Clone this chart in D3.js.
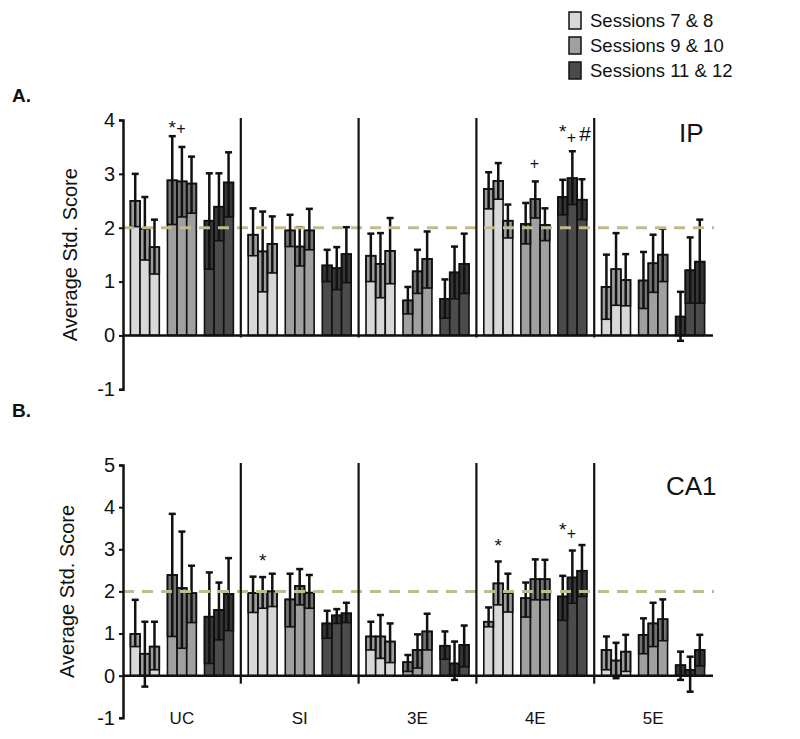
<!DOCTYPE html>
<html>
<meta charset=utf-8>
<head>
<style>
  body { margin: 0; background: #fff; }
  svg text { font-family: "Liberation Sans", Arial, sans-serif; fill: #111; }
</style>
</head>
<body>
<svg id="chart" width="800" height="739"></svg>
<script src="https://d3js.org/d3.v7.min.js"></script>
<script>
// categories
var groups = ["UC", "SI", "3E", "4E", "5E"]
var sessions = ["Sessions 7 & 8", "Sessions 9 & 10", "Sessions 11 & 12"]
var sessionFill = ["#d8d8d8", "#a0a0a0", "#4b4b4b"]

// panel A (IP): [group][session][bar]
var ipMean = [
  [[2.50, 1.98, 1.64], [2.88, 2.86, 2.82], [2.13, 2.39, 2.84]],
  [[1.87, 1.56, 1.70], [1.95, 1.65, 1.95], [1.30, 1.25, 1.51]],
  [[1.48, 1.33, 1.57], [0.65, 1.19, 1.42], [0.68, 1.17, 1.33]],
  [[2.72, 2.87, 2.13], [2.07, 2.53, 2.05], [2.57, 2.92, 2.52]],
  [[0.90, 1.23, 1.03], [1.02, 1.34, 1.50], [0.35, 1.21, 1.37]]
]
var ipHi = [
  [[3.00, 2.57, 2.15], [3.70, 3.50, 3.32], [3.01, 3.01, 3.40]],
  [[2.36, 2.30, 2.21], [2.24, 2.01, 2.35], [1.59, 1.64, 2.01]],
  [[1.89, 1.90, 2.18], [0.90, 1.59, 1.93], [1.04, 1.65, 1.89]],
  [[3.03, 3.20, 2.43], [2.46, 2.86, 2.36], [2.89, 3.42, 2.90]],
  [[1.50, 1.90, 1.51], [1.55, 1.87, 1.98], [0.81, 1.82, 2.15]]
]
var ipLo = [
  [[2.02, 1.40, 1.14], [2.06, 2.20, 2.27], [1.23, 1.76, 2.20]],
  [[1.48, 0.81, 1.16], [1.65, 1.29, 1.59], [1.00, 0.85, 0.98]],
  [[1.00, 0.70, 0.96], [0.40, 0.78, 0.88], [0.32, 0.68, 0.78]],
  [[2.35, 2.53, 1.81], [1.70, 2.18, 1.76], [2.24, 2.43, 2.15]],
  [[0.30, 0.56, 0.55], [0.50, 0.80, 1.00], [-0.10, 0.60, 0.60]]
]

// panel B (CA1)
var caMean = [
  [[0.99, 0.52, 0.69], [2.39, 2.08, 1.96], [1.40, 1.56, 1.94]],
  [[1.96, 2.00, 2.00], [1.81, 2.13, 1.97], [1.24, 1.43, 1.48]],
  [[0.93, 0.93, 0.81], [0.32, 0.61, 1.05], [0.71, 0.29, 0.73]],
  [[1.28, 2.19, 1.96], [1.84, 2.29, 2.29], [1.88, 2.33, 2.49]],
  [[0.61, 0.36, 0.57], [0.97, 1.24, 1.34], [0.25, 0.14, 0.61]]
]
var caHi = [
  [[1.80, 1.28, 1.28], [3.84, 3.42, 2.61], [2.45, 2.21, 2.79]],
  [[2.35, 2.34, 2.42], [2.42, 2.53, 2.39], [1.54, 1.58, 1.73]],
  [[1.28, 1.44, 1.24], [0.49, 0.98, 1.47], [1.05, 0.81, 1.19]],
  [[1.62, 2.71, 2.42], [2.21, 2.76, 2.75], [2.37, 2.97, 3.10]],
  [[0.93, 0.78, 0.97], [1.36, 1.73, 1.81], [0.57, 0.45, 0.97]]
]
var caLo = [
  [[0.69, -0.26, 0.14], [0.93, 0.65, 1.26], [0.29, 0.85, 1.07]],
  [[1.50, 1.60, 1.64], [1.16, 1.68, 1.60], [0.89, 1.24, 1.26]],
  [[0.61, 0.41, 0.31], [0.10, 0.18, 0.61], [0.39, -0.10, 0.21]],
  [[1.16, 1.68, 1.51], [1.39, 1.80, 1.80], [1.31, 1.72, 1.88]],
  [[0.14, -0.06, 0.10], [0.52, 0.69, 0.83], [-0.10, -0.38, 0.23]]
]

// significance marks: group, session, bar, value, symbol
var ipMarks = [
  ["UC", 1, 0, 3.93, "*"], ["UC", 1, 1, 3.86, "+"],
  ["4E", 1, 1, 3.2, "+"],
  ["4E", 2, 0, 3.86, "*"], ["4E", 2, 1, 3.69, "+"], ["4E", 2, 2, 3.72, "#"]
]
var caMarks = [
  ["SI", 0, 1, 2.82, "*"],
  ["4E", 0, 1, 3.18, "*"],
  ["4E", 2, 0, 3.56, "*"], ["4E", 2, 1, 3.39, "+"]
]

var ipTicks = [-1, 0, 1, 2, 3, 4]
var caTicks = [-1, 0, 1, 2, 3, 4, 5]
var chance = 2

var svg = d3.select('#chart')

var x = d3.scaleBand().domain(groups).range([123, 712])
var xs = d3.scaleBand().domain([0, 1, 2]).range([0, x.bandwidth()])
  .paddingInner(0.22).paddingOuter(0.2)
var xb = d3.scaleBand().domain([0, 1, 2]).range([0, xs.bandwidth()])

// small nudges so the glyphs sit like in the figure
function glyphDy(s) { return s == "*" ? 10 : 6 }
function glyphDx(s) { return s == "#" ? 3 : (s == "+" ? -1 : 0) }

function panel(opts) {
  var y = d3.scaleLinear().domain([opts.ticks[0], opts.ticks[opts.ticks.length - 1]])
    .range([opts.bottom, opts.top])
  var g = svg.append('g')

  // flatten bars
  var bars = []
  groups.forEach(function (grp, gi) {
    sessions.forEach(function (s, si) {
      [0, 1, 2].forEach(function (bi) {
        bars.push({
          grp: grp, si: si, bi: bi,
          mean: opts.mean[gi][si][bi],
          hi: opts.hi[gi][si][bi],
          lo: opts.lo[gi][si][bi],
          x: x(grp) + xs(si) + xb(bi)
        })
      })
    })
  })
  var w = xb.bandwidth()

  // bars
  g.selectAll('rect.bar').data(bars).enter().append('rect')
    .attr('class', 'bar')
    .attr('x', function (d) { return d.x })
    .attr('width', w)
    .attr('y', function (d) { return y(Math.max(0, d.mean)) })
    .attr('height', function (d) { return Math.abs(y(d.mean) - y(0)) })
    .attr('fill', function (d) { return sessionFill[d.si] })
    .attr('stroke', '#111')
    .attr('stroke-width', 1.6)

  // lower error box
  g.selectAll('rect.box').data(bars).enter().append('rect')
    .attr('class', 'box')
    .attr('x', function (d) { return d.x })
    .attr('width', w)
    .attr('y', function (d) { return y(d.mean) })
    .attr('height', function (d) { return Math.max(0, y(Math.max(0, d.lo)) - y(d.mean)) })
    .attr('fill', '#000')
    .attr('fill-opacity', 0.28)
    .attr('stroke', '#111')
    .attr('stroke-width', 1.6)

  // whiskers
  var eb = g.selectAll('g.err').data(bars).enter().append('g').attr('class', 'err')
    .attr('stroke', '#111').attr('stroke-width', 2.5)
  eb.append('line')
    .attr('x1', function (d) { return d.x + w / 2 })
    .attr('x2', function (d) { return d.x + w / 2 })
    .attr('y1', function (d) { return y(d.lo) })
    .attr('y2', function (d) { return y(d.hi) })
  eb.append('line')
    .attr('x1', function (d) { return d.x + w / 2 - 3.5 })
    .attr('x2', function (d) { return d.x + w / 2 + 3.5 })
    .attr('y1', function (d) { return y(d.hi) })
    .attr('y2', function (d) { return y(d.hi) })
  eb.filter(function (d) { return d.lo < 0 }).append('line')
    .attr('x1', function (d) { return d.x + w / 2 - 3.5 })
    .attr('x2', function (d) { return d.x + w / 2 + 3.5 })
    .attr('y1', function (d) { return y(d.lo) })
    .attr('y2', function (d) { return y(d.lo) })

  // chance line
  g.append('line')
    .attr('x1', 123).attr('x2', 714)
    .attr('y1', y(chance)).attr('y2', y(chance))
    .attr('stroke', '#c2bb8c').attr('stroke-width', 3)
    .attr('stroke-dasharray', '11,8')

  // group dividers
  g.selectAll('line.div').data(groups.slice(1)).enter().append('line')
    .attr('x1', function (d) { return x(d) }).attr('x2', function (d) { return x(d) })
    .attr('y1', y(opts.ticks[opts.ticks.length - 1]) - 2)
    .attr('y2', y(0) + opts.divExtra)
    .attr('stroke', '#111').attr('stroke-width', 2.2)

  // baseline
  g.append('line')
    .attr('x1', 123).attr('x2', 713)
    .attr('y1', y(0)).attr('y2', y(0))
    .attr('stroke', '#111').attr('stroke-width', 2.5)

  // y axis
  var ax = g.append('g').attr('transform', 'translate(123,0)')
    .call(d3.axisLeft(y).tickValues(opts.ticks).tickSize(4).tickSizeOuter(4)
      .tickFormat(function (d) { return String(d) }))
  ax.select('.domain').attr('stroke', '#111').attr('stroke-width', 2.5)
  ax.selectAll('.tick line').attr('stroke', '#111').attr('stroke-width', 2)
  ax.selectAll('.tick text').attr('font-size', 20).attr('fill', '#111')
    .attr('font-family', '"Liberation Sans", Arial, sans-serif').attr('x', -8)

  g.append('text')
    .attr('transform', 'translate(' + opts.titleX + ',' + (y(opts.ticks[0]) + y(opts.ticks[opts.ticks.length - 1])) / 2 + ') rotate(-90)')
    .attr('text-anchor', 'middle')
    .attr('dy', '0.35em')
    .attr('font-size', 20)
    .text('Average Std. Score')

  // marks
  g.selectAll('text.mark').data(opts.marks).enter().append('text')
    .attr('class', 'mark')
    .attr('x', function (d) { return x(d[0]) + xs(d[1]) + xb(d[2]) + w / 2 + glyphDx(d[4]) })
    .attr('y', function (d) { return y(d[3]) + glyphDy(d[4]) })
    .attr('text-anchor', 'middle')
    .attr('font-size', function (d) { return d[4] == "#" ? 21 : (d[4] == "+" ? 16 : 19) })
    .text(function (d) { return d[4] })

  g.append('text')
    .attr('x', opts.nameX).attr('y', opts.nameY)
    .attr('font-size', 26)
    .text(opts.name)

  g.append('text')
    .attr('x', 12).attr('y', opts.letterY)
    .attr('font-size', 19).attr('font-weight', 'bold')
    .text(opts.letter)

  return y
}

panel({ mean: ipMean, hi: ipHi, lo: ipLo, ticks: ipTicks, marks: ipMarks,
  top: 120, bottom: 389.3, divExtra: 2, titleX: 70,
  name: 'IP', nameX: 679, nameY: 142, letter: 'A.', letterY: 102 })

panel({ mean: caMean, hi: caHi, lo: caLo, ticks: caTicks, marks: caMarks,
  top: 465, bottom: 717.8, divExtra: 8, titleX: 67,
  name: 'CA1', nameX: 666, nameY: 495, letter: 'B.', letterY: 417 })

// x category labels under panel B
svg.selectAll('text.cat').data(groups).enter().append('text')
  .attr('class', 'cat')
  .attr('x', function (d) { return x(d) + x.bandwidth() / 2 })
  .attr('y', 724)
  .attr('text-anchor', 'middle')
  .attr('font-size', 17)
  .text(function (d) { return d })

// legend
var lg = svg.append('g').selectAll('g').data(sessions).enter().append('g')
  .attr('transform', function (d, i) { return 'translate(569,' + (12 + i * 25) + ')' })
lg.append('rect')
  .attr('width', 12).attr('height', 17)
  .attr('fill', function (d, i) { return sessionFill[i] })
  .attr('stroke', '#111').attr('stroke-width', 1.5)
lg.append('text')
  .attr('x', 21).attr('y', 9).attr('dy', '0.35em')
  .attr('font-size', 18.5)
  .text(function (d) { return d })
</script>
</body>
</html>
